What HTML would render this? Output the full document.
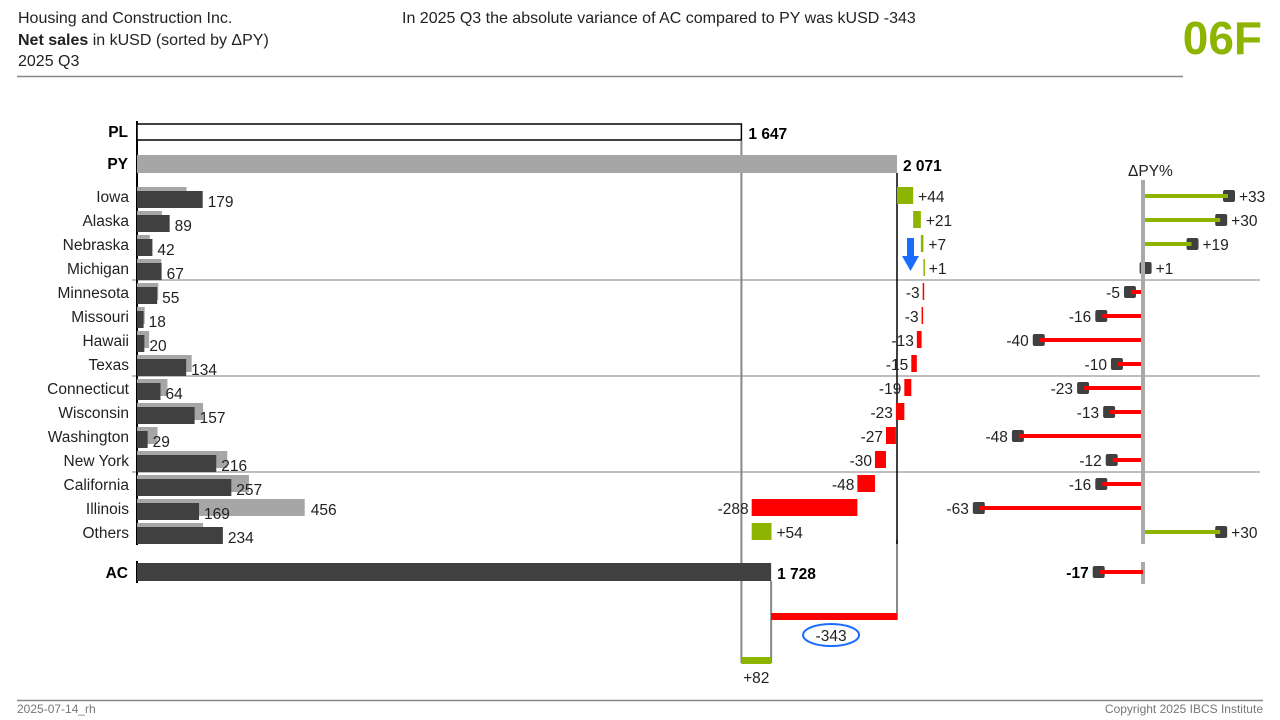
<!DOCTYPE html>
<html><head><meta charset="utf-8">
<style>
body{margin:0;width:1280px;height:720px;background:#fff;font-family:"Liberation Sans",Arial,sans-serif;overflow:hidden}
svg{position:absolute;left:0;top:0}
</style></head>
<body>
<svg id="c" width="1280" height="720" xmlns="http://www.w3.org/2000/svg" font-family="Liberation Sans, Arial, sans-serif">
<text x="18" y="23" font-size="16" fill="#222">Housing and Construction Inc.</text>
<text x="18" y="45" font-size="16" fill="#222"><tspan font-weight="bold">Net sales</tspan> in kUSD (sorted by ΔPY)</text>
<text x="18" y="66" font-size="16" fill="#222">2025 Q3</text>
<text x="402" y="23" font-size="16" fill="#222">In 2025 Q3 the absolute variance of AC compared to PY was kUSD -343</text>
<text x="1262" y="54" font-size="46" font-weight="bold" fill="#8cb400" text-anchor="end">06F</text>
<line x1="17" y1="76.5" x2="1183" y2="76.5" stroke="#888" stroke-width="1.5"/>
<line x1="17" y1="700.5" x2="1263" y2="700.5" stroke="#888" stroke-width="1.5"/>
<text x="17" y="713" font-size="12" fill="#777">2025-07-14_rh</text>
<text x="1263" y="713" font-size="12" fill="#777" text-anchor="end">Copyright 2025 IBCS Institute</text>
<g id="g"></g>
</svg>
<script>
const categories=["Iowa","Alaska","Nebraska","Michigan","Minnesota","Missouri","Hawaii","Texas","Connecticut","Wisconsin","Washington","New York","California","Illinois","Others"];
const acValues=[179,89,42,67,55,18,20,134,64,157,29,216,257,169,234];
const deltaValues=[44,21,7,1,-3,-3,-13,-15,-19,-23,-27,-30,-48,-288,54];
const pctValues=[33,30,19,1,-5,-16,-40,-10,-23,-13,-48,-12,-16,-63,30];
const totalPL=1647, totalPY=2071, totalAC=1728, totalPct=-17;

const NS="http://www.w3.org/2000/svg";
const g=document.getElementById('g');
function el(t,a,txt){const e=document.createElementNS(NS,t);for(const k in a)e.setAttribute(k,a[k]);if(txt!=null)e.textContent=txt;g.appendChild(e);return e;}
const FS=15.5;
const X0=137, K=(897-137)/2071;
const xs=v=>X0+v*K;
const rowTop=i=>187+i*24;
const P0=1143, PK=86/33;
const xp=v=>P0+v*PK;
const fmt=v=>{const s=String(Math.abs(v));return (v<0?'-':'')+s.replace(/\B(?=(\d{3})+(?!\d))/g,' ');};
const sgn=v=>(v>0?'+':'')+v;

[280,376,472].forEach((y)=>{const e=el('line',{x1:132,y1:y,x2:1260,y2:y,stroke:'#aaa','stroke-width':1.5});

});

let e;
e=el('line',{x1:xs(totalPL),y1:141,x2:xs(totalPL),y2:663,stroke:'#888','stroke-width':2});

e=el('line',{x1:xs(totalAC),y1:581,x2:xs(totalAC),y2:663,stroke:'#888','stroke-width':2});

e=el('line',{x1:xs(totalPY),y1:540,x2:xs(totalPY),y2:620,stroke:'#888','stroke-width':2});

e=el('line',{x1:xs(totalPY),y1:173,x2:xs(totalPY),y2:544,stroke:'#000','stroke-width':1.5});


e=el('line',{x1:X0,y1:121,x2:X0,y2:545,stroke:'#000','stroke-width':2});

e=el('line',{x1:X0,y1:561,x2:X0,y2:583,stroke:'#000','stroke-width':2});


e=el('rect',{x:X0,y:124,width:xs(totalPL)-X0,height:16,fill:'#fff',stroke:'#000','stroke-width':1.5});

e=el('text',{x:128,y:137,'font-size':FS,'font-weight':'bold','text-anchor':'end'},'PL');

e=el('text',{x:xs(totalPL)+7,y:139,'font-size':FS,'font-weight':'bold'},fmt(totalPL));

e=el('rect',{x:X0,y:155,width:xs(totalPY)-X0,height:18,fill:'#a6a6a6'});

e=el('text',{x:128,y:169,'font-size':FS,'font-weight':'bold','text-anchor':'end'},'PY');

e=el('text',{x:xs(totalPY)+6,y:171,'font-size':FS,'font-weight':'bold'},fmt(totalPY));

e=el('rect',{x:X0,y:563,width:xs(totalAC)-X0,height:18,fill:'#404040'});

e=el('text',{x:128,y:578,'font-size':FS,'font-weight':'bold','text-anchor':'end'},'AC');

e=el('text',{x:xs(totalAC)+6,y:579,'font-size':FS,'font-weight':'bold'},fmt(totalAC));


let cum=totalPY;
categories.forEach((c,i)=>{
  const t=rowTop(i), ac=acValues[i], d=deltaValues[i], py=ac-d;
  let r=el('text',{x:129,y:t+15,'font-size':FS,'text-anchor':'end',fill:'#222'},c);
  
  r=el('rect',{x:X0,y:t,width:xs(py)-X0,height:17,fill:'#a6a6a6'});
  
  r=el('rect',{x:X0,y:t+4,width:xs(ac)-X0,height:17,fill:'#404040'});
  
  r=el('text',{x:xs(ac)+5,y:t+20,'font-size':FS,fill:'#222'},fmt(ac));
  
  if(py-ac>100){r=el('text',{x:xs(py)+6,y:t+16,'font-size':FS,fill:'#222'},fmt(py-1));
    }
  const a=cum, b=cum+d; cum=b;
  const x1=xs(Math.min(a,b)), x2=xs(Math.max(a,b));
  r=el('rect',{x:x1,y:t,width:Math.max(x2-x1,1.5),height:17,fill:d>=0?'#8cb400':'#ff0000'});
  
  r=el('text',{x:d>=0?x2+5:x1-3,y:t+15,'font-size':FS,fill:'#222','text-anchor':d>=0?'start':'end'},sgn(d));
  
  const cy=t+9, xe=xp(pctValues[i]), p=pctValues[i];
  r=el('rect',{x:xe-6,y:cy-6,width:12,height:12,rx:2,fill:'#404040'});
  
  r=el('line',{x1:P0,y1:cy,x2:p>=0?xe-1:xe+1,y2:cy,stroke:p>=0?'#8cb400':'#ff0000','stroke-width':4});
  
  r=el('text',{x:p>=0?xe+10:xe-10,y:cy+6,'font-size':FS,fill:'#222','text-anchor':p>=0?'start':'end'},sgn(p));
  
});
e=el('line',{x1:P0,y1:180,x2:P0,y2:544,stroke:'#aaa','stroke-width':4});

e=el('line',{x1:P0,y1:562,x2:P0,y2:584,stroke:'#aaa','stroke-width':4});

e=el('text',{x:P0-15,y:176,'font-size':FS,fill:'#222'},'ΔPY%');

e=el('rect',{x:xp(totalPct)-6,y:566,width:12,height:12,rx:2,fill:'#404040'});

e=el('line',{x1:P0,y1:572,x2:xp(totalPct)+1,y2:572,stroke:'#ff0000','stroke-width':4});

e=el('text',{x:xp(totalPct)-10,y:578,'font-size':FS,'font-weight':'bold','text-anchor':'end'},String(totalPct));


e=el('rect',{x:xs(totalAC),y:613,width:xs(totalPY)-xs(totalAC),height:7,fill:'#ff0000'});

e=el('ellipse',{cx:(xs(totalAC)+xs(totalPY))/2-3,cy:635,rx:28,ry:11,fill:'none',stroke:'#1a6cff','stroke-width':2});

e=el('text',{x:(xs(totalAC)+xs(totalPY))/2-3,y:641,'font-size':FS,'text-anchor':'middle',fill:'#222'},String(totalAC-totalPY));

e=el('rect',{x:xs(totalPL),y:657,width:xs(totalAC)-xs(totalPL),height:7,fill:'#8cb400'});

e=el('text',{x:(xs(totalAC)+xs(totalPL))/2,y:683,'font-size':FS,'text-anchor':'middle',fill:'#222'},sgn(totalAC-totalPL+1));


e=el('path',{d:'M907 238 H914 V256 H919 L910.5 271 L902 256 H907 Z',fill:'#1a6cff'});

</script>
</body></html>
